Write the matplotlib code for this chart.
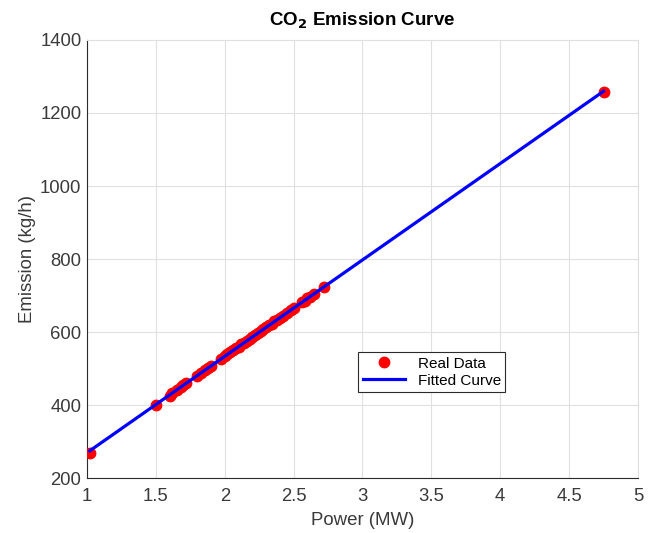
import numpy as np
import matplotlib
matplotlib.use("Agg")
import matplotlib.pyplot as plt

power = [1.02, 1.50, 1.60, 1.62, 1.65, 1.68, 1.70, 1.72, 1.80, 1.83, 1.86, 1.88,
         1.90, 1.97, 2.00, 2.02, 2.04, 2.06, 2.08, 2.10, 2.12, 2.14, 2.16, 2.18,
         2.20, 2.22, 2.24, 2.26, 2.28, 2.30, 2.32, 2.34, 2.36, 2.38, 2.40, 2.42,
         2.45, 2.48, 2.50, 2.56, 2.58, 2.60, 2.62, 2.65, 2.72, 4.75]
emission = [270, 400, 425, 434, 442, 450, 455, 460, 481, 489, 497, 502,
            508, 526, 534, 539, 545, 550, 555, 560, 566, 571, 576, 581,
            587, 592, 597, 602, 608, 613, 618, 623, 629, 634, 639, 644,
            652, 660, 665, 681, 686, 692, 697, 705, 723, 1258]

x_ticks = [1, 1.5, 2, 2.5, 3, 3.5, 4, 4.5, 5]
y_ticks = [200, 400, 600, 800, 1000, 1200, 1400]

plt.rcParams['font.family'] = ['Liberation Sans', 'DejaVu Sans']
txt_color = '#3a3a3a'

fig = plt.figure(figsize=(6.57, 5.33), dpi=100)
ax = fig.add_axes([0.1324, 0.103, 0.8386, 0.822])

p = np.array(power)
e = np.array(emission)
coef = np.polyfit(p, e, 1)
xfit = np.array([p.min(), p.max()])

ax.plot(p, e, 'o', color='red', markersize=7.5, label='Real Data', zorder=3)
ax.plot(xfit, np.polyval(coef, xfit), '-', color='blue', linewidth=2.3,
        label='Fitted Curve', zorder=4)

ax.set_xlim(1, 5)
ax.set_ylim(200, 1400)
ax.set_xticks(x_ticks)
ax.set_xticklabels(['1', '1.5', '2', '2.5', '3', '3.5', '4', '4.5', '5'])
ax.set_yticks(y_ticks)

ax.grid(True, color='#e0e0e0', linewidth=0.8)
ax.set_axisbelow(True)
for side in ['left', 'bottom']:
    ax.spines[side].set_color('#2b2b2b')
    ax.spines[side].set_linewidth(0.8)
for side in ['top', 'right']:
    ax.spines[side].set_color('#e0e0e0')
    ax.spines[side].set_linewidth(0.8)
ax.tick_params(axis='x', length=0, labelsize=13.3, colors=txt_color, pad=7)
ax.tick_params(axis='y', length=0, labelsize=13.3, colors=txt_color, pad=4)

ax.set_xlabel('Power (MW)', fontsize=13.4, color=txt_color, labelpad=5)
ax.set_ylabel('Emission (kg/h)', fontsize=13.4, color=txt_color, labelpad=3)
ax.set_title(r'CO$_{\mathbf{2}}$ Emission Curve', fontsize=13.5, fontweight='bold',
             pad=10)

leg = ax.legend(loc='lower left', bbox_to_anchor=(0.492, 0.196), fancybox=False,
                edgecolor='#2b2b2b', fontsize=11, framealpha=1,
                borderpad=0.3, labelspacing=0.2, handlelength=2.8, borderaxespad=0)
leg.get_frame().set_linewidth(0.8)

fig.savefig('out.png', dpi=100)
